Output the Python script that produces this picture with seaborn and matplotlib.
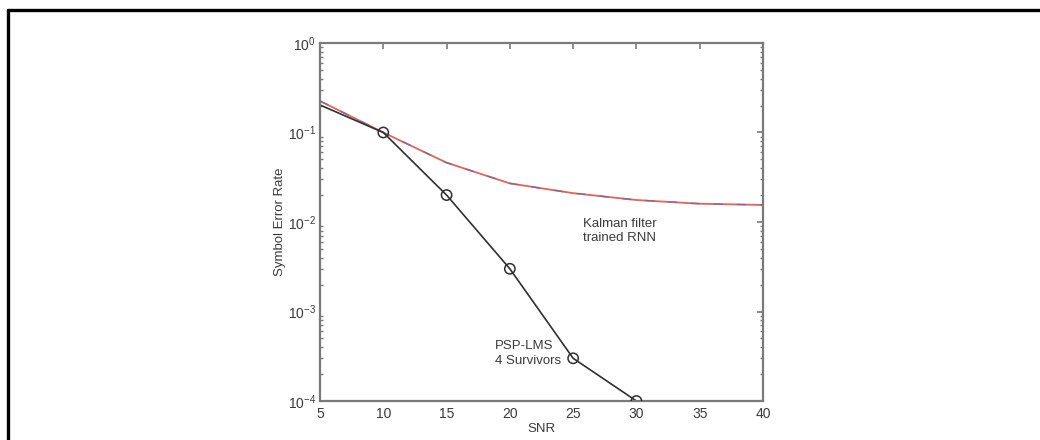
import matplotlib
matplotlib.use("Agg")
import matplotlib.pyplot as plt
from matplotlib.lines import Line2D
from matplotlib.ticker import LogLocator, FixedLocator, NullFormatter
import numpy as np
import pandas as pd
import seaborn as sns

# Symbol error rate versus SNR for the two equalisers
snr_rnn = [5, 10, 15, 20, 25, 30, 35, 40]
ser_rnn = [0.225, 0.1, 0.046, 0.027, 0.021, 0.0176, 0.016, 0.0155]

snr_psp = [5, 10, 15, 20, 25, 30]
ser_psp = [0.203, 0.1, 0.02, 0.003, 0.0003, 0.0001]
psp_marked = [10, 15, 20, 25, 30]

x_ticks = [5, 10, 15, 20, 25, 30, 35, 40]
label_rnn = "Kalman filter\ntrained RNN"
label_psp = "PSP-LMS\n4 Survivors"

sns.set_theme(style="white")
plt.rcParams["font.family"] = ["Liberation Sans Narrow", "Liberation Sans", "DejaVu Sans"]

text_col = "#3a3a3a"
axis_col = "#7a7a7a"

fig = plt.figure(figsize=(10.4, 4.4), dpi=100)
ax = fig.add_axes([320 / 1040, 1 - 401 / 440, (763 - 320) / 1040, (401 - 43) / 440])

df_rnn = pd.DataFrame({"SNR": snr_rnn, "SER": ser_rnn})
df_psp = pd.DataFrame({"SNR": snr_psp, "SER": ser_psp})
df_mark = df_psp[df_psp["SNR"].isin(psp_marked)]

sns.lineplot(data=df_rnn, x="SNR", y="SER", ax=ax, color="#e0645a", lw=1.3,
             estimator=None, sort=False)
sns.lineplot(data=df_rnn, x="SNR", y="SER", ax=ax, color="#7a6a98", lw=1.1,
             estimator=None, sort=False, dashes=False, linestyle=(0, (6, 9)), alpha=0.8)
sns.lineplot(data=df_psp, x="SNR", y="SER", ax=ax, color="#303030", lw=1.2,
             estimator=None, sort=False)
sns.scatterplot(data=df_mark, x="SNR", y="SER", ax=ax, marker="o", s=55,
                facecolor="none", edgecolor="#303030", linewidth=1.1, zorder=5)

ax.set_yscale("log")
ax.set_xlim(5, 40)
ax.set_ylim(1e-4, 1)
ax.xaxis.set_major_locator(FixedLocator(x_ticks))
ax.yaxis.set_major_locator(LogLocator(base=10, numticks=10))
ax.yaxis.set_minor_locator(LogLocator(base=10, subs=np.arange(2, 10), numticks=20))
ax.yaxis.set_minor_formatter(NullFormatter())

for s in ax.spines.values():
    s.set_color(axis_col)
    s.set_linewidth(1.6)
ax.tick_params(which="both", direction="in", top=True, right=True, colors=axis_col,
               labelcolor=text_col, labelsize=10)
ax.tick_params(which="major", length=4, width=1.2)
ax.tick_params(which="minor", length=2.5, width=1.0, left=True, right=True)
ax.tick_params(axis="x", pad=4)
ax.tick_params(axis="y", pad=3)

ax.set_xlabel("SNR", fontsize=9.5, color=text_col, labelpad=2)
ax.set_ylabel("Symbol Error Rate", fontsize=9.5, color=text_col, labelpad=1)

ax.text(25.8, 0.0112, label_rnn, fontsize=9.5, color=text_col, va="top", ha="left",
        linespacing=1.3)
ax.text(18.8, 0.00048, label_psp, fontsize=9.5, color=text_col, va="top", ha="left",
        linespacing=1.3)

# frame lines along the top and left of the figure
fig.add_artist(Line2D([8 / 1040, 1.0], [1 - 10 / 440, 1 - 10 / 440],
                      transform=fig.transFigure, color="black", lw=2.4))
fig.add_artist(Line2D([8 / 1040, 8 / 1040], [1 - 10 / 440, 0.0],
                      transform=fig.transFigure, color="black", lw=2.4))

fig.savefig("out.png", dpi=100)
